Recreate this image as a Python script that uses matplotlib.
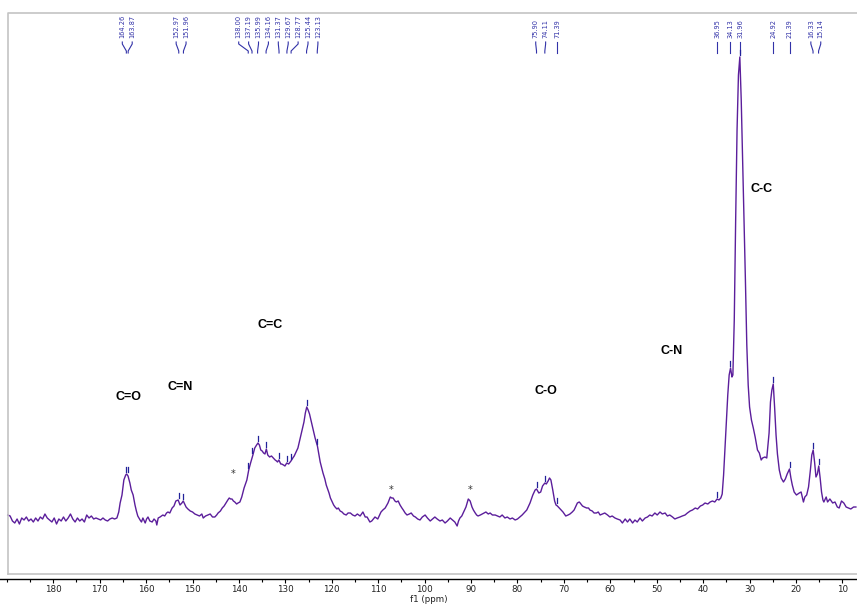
import matplotlib
matplotlib.use('agg')
import matplotlib.pyplot as plt
from matplotlib.lines import Line2D
from matplotlib.ticker import MultipleLocator
import numpy as np

# 13C CP-MAS spectrum, (shift in ppm, intensity)
baseline_high = [
    (189.8, 5), (189.3, 4), (188.8, -1), (188.3, -3), (187.8, 1), (187.3, -4), (186.8, 2), (186.3, 0), (185.8, 3), (185.3, -1),
    (184.8, 1), (184.3, -2), (183.8, 2), (183.3, -1), (182.8, 3), (182.3, 1), (181.8, 6), (181.3, 2), (180.8, 0), (180.3, -2),
    (179.8, 2), (179.3, -4), (178.8, 1), (178.3, -1), (177.8, 3), (177.3, -1), (176.8, 2), (176.3, 6), (175.8, 1), (175.3, -2),
    (174.8, 2), (174.3, -1), (173.8, 1), (173.3, -2), (172.8, 5), (172.3, 2), (171.8, 4), (171.3, 1), (170.8, 2), (170.3, 1),
    (169.8, 0), (169.3, 2), (168.8, 0), (168.3, -1), (167.8, 1), (167.3, 2), (166.8, 1),
]

carbonyl_imine = [
    (166.3, 2), (165.9, 8), (165.6, 17), (165.2, 25), (164.8, 40), (164.4, 45), (164.2, 46), (163.9, 44), (163.5, 37), (163.2, 30),
    (162.8, 25), (162.4, 15), (162.1, 9), (161.8, 4), (161.3, 0), (161.0, -2), (160.7, 2), (160.2, -3), (159.9, 1), (159.6, 3),
    (159.2, -1), (158.7, -2), (158.3, 1), (157.9, -1), (157.7, -5), (157.4, 2), (157.0, 3), (156.4, 5), (156.0, 4), (155.6, 7),
    (155.3, 8), (154.9, 7), (154.4, 12), (154.0, 14), (153.6, 19), (153.1, 20), (152.7, 15), (152.3, 17), (152.0, 19), (151.7, 16),
    (151.4, 13), (151.0, 11), (150.5, 9), (150.0, 8), (149.5, 6), (149.0, 5), (148.5, 4), (148.0, 6), (147.7, 2), (147.2, 4),
]

aromatic = [
    (146.7, 5), (146.2, 6), (145.7, 3), (145.2, 3), (144.8, 5), (144.5, 7), (144.0, 9), (143.6, 12), (143.2, 14), (142.8, 17),
    (142.4, 20), (142.1, 22), (141.8, 21), (141.5, 21), (141.2, 19), (140.9, 18), (140.5, 16), (140.2, 17), (139.8, 18), (139.4, 23),
    (138.9, 32), (138.6, 36), (138.3, 40), (137.9, 50), (137.5, 57), (137.0, 65), (136.6, 72), (136.2, 75), (135.9, 77), (135.6, 75),
    (135.3, 70), (135.0, 69), (134.7, 67), (134.4, 66), (134.1, 71), (133.8, 65), (133.4, 63), (133.0, 64), (132.6, 62), (132.2, 60),
    (131.9, 59), (131.7, 58), (131.4, 60), (131.0, 56), (130.8, 56), (130.4, 55), (130.1, 54), (129.7, 57), (129.3, 56), (128.8, 59),
    (128.4, 62), (128.1, 64), (127.8, 67), (127.3, 72), (126.9, 80), (126.4, 90), (126.0, 98), (125.7, 107), (125.4, 113), (125.1, 110),
    (124.8, 106), (124.4, 98), (124.0, 90), (123.6, 82), (123.1, 74), (122.8, 66), (122.5, 58), (121.9, 47), (121.5, 41), (121.2, 35),
    (120.9, 31), (120.6, 27), (120.3, 22), (119.9, 18), (119.6, 15), (119.3, 13), (118.9, 11), (118.6, 12), (118.2, 9), (117.8, 8),
    (117.4, 6), (116.9, 5), (116.5, 7), (116.0, 7), (115.5, 5), (115.0, 4), (114.5, 6), (113.9, 4), (113.3, 8), (112.8, 3),
    (112.4, 3), (111.8, -2), (111.4, -1),
]

sidebands_mid = [
    (110.7, 3), (110.1, 1), (109.4, 8), (109.0, 10), (108.5, 12), (107.9, 17), (107.4, 23), (107.1, 22), (106.8, 22), (106.4, 19),
    (106.1, 18), (105.7, 19), (105.3, 15), (104.9, 12), (104.6, 10), (104.2, 7), (103.8, 5), (103.3, 6), (102.9, 7), (102.4, 4),
    (102.0, 3), (101.5, 1), (101.0, 0), (100.5, 3), (99.9, 5), (99.4, 2), (98.8, -1), (98.3, 1), (97.8, 3), (97.3, 1),
    (96.7, -1), (96.2, 0), (95.6, -3), (95.1, -1), (94.5, 2), (94.0, 0), (93.5, -2), (93.0, -6), (92.7, -1), (92.4, 2),
    (92.0, 4), (91.7, 7), (91.4, 10), (91.1, 13), (90.8, 18), (90.6, 21), (90.2, 19), (89.8, 13), (89.5, 10), (89.1, 7),
    (88.8, 5), (88.5, 4), (88.0, 5), (87.6, 6), (87.2, 7), (86.8, 8), (86.3, 6), (85.9, 7), (85.4, 5), (84.8, 5),
    (84.3, 4), (83.8, 3), (83.3, 5), (82.7, 2), (82.2, 3), (81.6, 1), (81.1, 2), (80.5, 0), (80.0, 1), (79.5, 3),
    (79.0, 5),
]

ether_region = [
    (78.6, 7), (78.0, 10), (77.7, 13), (77.3, 17), (77.0, 21), (76.7, 25), (76.2, 30), (75.9, 31), (75.4, 27), (75.0, 28),
    (74.6, 34), (74.1, 37), (73.8, 36), (73.4, 39), (73.1, 42), (72.8, 40), (72.4, 30), (72.0, 19), (71.7, 15), (71.4, 14),
    (71.0, 12), (70.6, 10), (70.2, 8), (69.6, 4), (69.1, 5), (68.7, 6), (68.2, 8), (67.8, 10), (67.4, 14), (67.1, 17),
    (66.7, 18), (66.5, 17), (66.0, 14), (65.6, 13), (65.1, 12), (64.7, 12), (64.4, 10), (63.9, 9), (63.5, 7), (63.0, 7),
    (62.6, 8), (62.2, 5), (61.7, 6), (61.2, 7), (60.6, 5), (60.1, 3), (59.6, 4), (59.0, 2), (58.5, 1), (57.9, 0),
    (57.4, -3), (56.8, 1), (56.3, -2), (55.8, 1), (55.2, -3), (54.7, 0), (54.2, -2), (53.6, 2), (53.1, -1), (52.5, 2),
    (52.0, 3), (51.5, 5), (51.0, 4), (50.4, 7), (49.9, 5), (49.3, 8), (48.8, 6), (48.2, 7), (47.7, 4), (47.2, 5),
    (46.6, 3), (46.1, 1), (45.6, 2), (45.0, 3), (44.5, 4),
]

aliphatic = [
    (43.9, 5), (43.4, 7), (42.8, 9), (42.3, 10), (41.7, 12), (41.2, 11), (40.6, 14), (40.1, 15), (39.6, 17), (39.0, 16),
    (38.5, 18), (38.0, 19), (37.5, 18), (37.0, 21), (36.6, 20), (36.2, 22), (35.9, 26), (35.6, 45), (35.3, 72), (35.0, 100),
    (34.7, 125), (34.4, 145), (34.1, 152), (33.8, 143), (33.6, 145), (33.3, 200), (33.0, 300), (32.7, 390), (32.4, 445), (32.1, 463),
    (31.8, 420), (31.5, 360), (31.2, 300), (30.9, 240), (30.6, 175), (30.3, 135), (30.0, 113), (29.6, 100), (29.2, 92), (28.8, 83),
    (28.3, 70), (27.9, 67), (27.5, 60), (27.2, 62), (26.7, 63), (26.3, 62), (25.8, 87), (25.5, 118), (25.2, 130), (24.9, 136),
    (24.6, 112), (24.3, 85), (24.0, 66), (23.6, 50), (23.2, 42), (22.7, 38), (22.3, 41), (21.9, 46), (21.4, 51), (21.1, 42),
    (20.8, 35), (20.4, 28), (19.9, 25), (19.3, 27), (18.9, 28), (18.4, 18), (18.1, 23), (17.7, 25), (17.3, 33), (16.9, 50),
    (16.6, 65), (16.3, 70), (16.0, 58), (15.7, 43), (15.4, 46), (15.1, 54), (14.8, 42), (14.5, 28), (14.2, 20), (14.0, 18),
    (13.5, 23), (13.2, 18), (12.7, 21), (12.1, 17), (11.6, 18), (11.1, 13), (10.7, 12), (10.2, 19), (9.7, 17), (9.2, 13),
    (8.7, 12), (8.2, 11), (7.6, 13), (7.1, 13),
]

peak_ppm = [164.26, 163.87, 152.97, 151.96, 138.00, 137.19, 135.99, 134.16, 131.37,
            129.67, 128.77, 125.44, 123.13, 75.90, 74.11, 71.39, 36.95, 34.13,
            31.96, 24.92, 21.39, 16.33, 15.14]

group_names = ['C=O', 'C=N', 'C=C', 'C-O', 'C-N', 'C-C']
group_ppm = [163.8, 152.6, 133.2, 73.9, 46.7, 27.4]
group_height = [124, 134, 196, 130, 170, 332]

sideband_ppm = [141.2, 107.3, 90.2]
sideband_height = [48, 32, 32]

spectrum = baseline_high + carbonyl_imine + aromatic + sidebands_mid + ether_region + aliphatic
ppm = np.array([p for p, _ in spectrum])
intensity = np.array([v for _, v in spectrum], dtype=float)

W, H = 857, 610
X_LEFT, X_RIGHT = 191.48, 6.86
PX_PER_PPM = W / (X_LEFT - X_RIGHT)

fig = plt.figure(figsize=(W / 100, H / 100), dpi=100)
ax = fig.add_axes([0, 31 / H, 1, 566 / H])
ax.set_xlim(X_LEFT, X_RIGHT)
ax.set_ylim(-59, 507)

# light grey frame of the spectrum window
grey = '#c4c4c4'
fig.add_artist(Line2D([8 / W, 8 / W, 1], [1 - 574 / H, 1 - 13 / H, 1 - 13 / H],
                      transform=fig.transFigure, color=grey, lw=1.2))
fig.add_artist(Line2D([8 / W, 1], [1 - 574 / H, 1 - 574 / H],
                      transform=fig.transFigure, color=grey, lw=1.2))

ax.plot(ppm, intensity, color='#5b1e9b', lw=1.0, zorder=3)

for s in ['top', 'left', 'right']:
    ax.spines[s].set_visible(False)
ax.spines['bottom'].set_linewidth(1.0)
ax.set_yticks([])
ax.set_xticks(np.arange(10, 190, 10))
ax.xaxis.set_minor_locator(MultipleLocator(5))
ax.tick_params(axis='x', which='major', direction='out', length=3.2, width=0.8,
               pad=1.2, labelsize=6.3, labelcolor='#222222')
ax.tick_params(axis='x', which='minor', direction='out', length=1.8, width=0.8)
ax.set_xlabel('f1 (ppm)', fontsize=6.3, labelpad=0.5, color='#222222')


def spread(xs, gap):
    # push label positions apart (pixel units, ascending) keeping group centres
    blocks = []
    for x in xs:
        blocks.append([x, 1])
        while len(blocks) > 1:
            s1, n1 = blocks[-2]
            s2, n2 = blocks[-1]
            end1 = s1 / n1 + (n1 - 1) * gap / 2
            start2 = s2 / n2 - (n2 - 1) * gap / 2
            if start2 - end1 < gap:
                blocks[-2:] = [[s1 + s2, n1 + n2]]
            else:
                break
    out = []
    for s, n in blocks:
        c = s / n
        out += [c + (i - (n - 1) / 2) * gap for i in range(n)]
    return out


label_blue = '#3232a8'
px = [(X_LEFT - p) * PX_PER_PPM for p in peak_ppm]
lab_px = spread(px, 9.9)
asc_ppm = ppm[::-1]
asc_int = intensity[::-1]
for p, lx_px in zip(peak_ppm, lab_px):
    lx = X_LEFT - lx_px / PX_PER_PPM
    ax.text(lx, 482, '%.2f' % p, rotation=90, ha='center', va='bottom',
            fontsize=4.8, color=label_blue)
    ax.plot([lx, lx, p, p], [478, 476, 469, 467], color=label_blue, lw=0.8)
    near = np.abs(ppm - p) <= 0.35
    top = intensity[near].max() if near.any() else np.interp(p, asc_ppm, asc_int)
    ax.plot([p, p], [top + 2, top + 7], color='#22229a', lw=0.9, zorder=4)

for name, p, h in zip(group_names, group_ppm, group_height):
    ax.text(p, h - 4.5, name, ha='center', va='baseline', fontsize=9,
            fontweight='bold', family='Liberation Sans', color='black')

for p, h in zip(sideband_ppm, sideband_height):
    ax.text(p, h - 2.5, '*', ha='center', va='center', fontsize=7, color='#333333')

fig.savefig('out.png', dpi=100)
